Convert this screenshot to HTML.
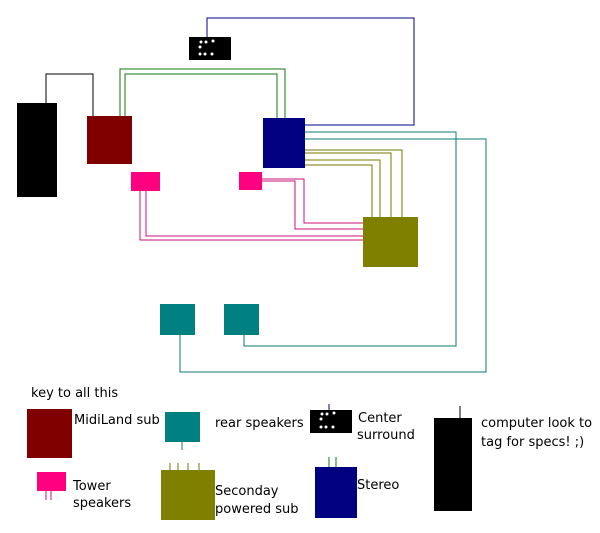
<!DOCTYPE html>
<html><head><style>body{margin:0;background:#fff}svg{display:block}text{font-family:"DejaVu Sans","Liberation Sans",sans-serif;font-size:13px;fill:#000}</style></head>
<body>
<svg width="600" height="533" viewBox="0 0 600 533" xmlns="http://www.w3.org/2000/svg">
<g fill="none" stroke-width="1.3" shape-rendering="crispEdges">
<polyline stroke="#000" points="46,103 46,74 93,74 93,116"/>
<polyline stroke="#00008b" points="207,37 207,18 414,18 414,125 305,125"/>
<polyline stroke="#117711" points="120,116 120,69 285,69 285,118"/>
<polyline stroke="#117711" points="125,116 125,74 277,74 277,118"/>
<polyline stroke="#cc1177" points="140,191 140,240 363,240"/>
<polyline stroke="#cc1177" points="146,191 146,236 363,236"/>
<polyline stroke="#cc1177" points="262,179 304,179 304,223 363,223"/>
<polyline stroke="#cc1177" points="262,181 295,181 295,229 363,229"/>
<polyline stroke="#777700" points="305,150 402,150 402,217"/>
<polyline stroke="#777700" points="305,153 391,153 391,217"/>
<polyline stroke="#777700" points="305,160 380,160 380,217"/>
<polyline stroke="#777700" points="305,165 372,165 372,217"/>
<polyline stroke="#117777" points="305,132 456,132 456,346 244,346 244,335"/>
<polyline stroke="#117777" points="305,139 486,139 486,372 180,372 180,335"/>
<line stroke="#117777" x1="182" y1="442" x2="182" y2="450"/>
<line stroke="#00008b" x1="329" y1="404" x2="329" y2="410"/>
<line stroke="#000" x1="460" y1="406" x2="460" y2="418"/>
<line stroke="#cc1177" x1="46" y1="491" x2="46" y2="500"/>
<line stroke="#cc1177" x1="51" y1="491" x2="51" y2="500"/>
<line stroke="#777700" x1="170" y1="463" x2="170" y2="470"/>
<line stroke="#777700" x1="178" y1="463" x2="178" y2="470"/>
<line stroke="#777700" x1="188" y1="463" x2="188" y2="470"/>
<line stroke="#777700" x1="199" y1="463" x2="199" y2="470"/>
<line stroke="#117711" x1="329" y1="457" x2="329" y2="467"/>
<line stroke="#117711" x1="336" y1="457" x2="336" y2="467"/>
</g>
<rect x="17" y="103" width="40" height="94" fill="#000"/>
<rect x="87" y="116" width="45" height="48" fill="#800000"/>
<rect x="189" y="37" width="42" height="23" fill="#000"/>
<g fill="#fff"><circle cx="201" cy="42" r="1.5"/><circle cx="206" cy="42" r="1.5"/><circle cx="213" cy="41" r="1.5"/><circle cx="200" cy="47" r="1.5"/><circle cx="200" cy="54" r="1.5"/><circle cx="205" cy="54" r="1.5"/><circle cx="212" cy="54" r="1.5"/></g>
<rect x="263" y="118" width="42" height="50" fill="#000080"/>
<rect x="131" y="172" width="29" height="19" fill="#ff0080"/>
<rect x="239" y="172" width="23" height="18" fill="#ff0080"/>
<rect x="363" y="217" width="55" height="50" fill="#808000"/>
<rect x="160" y="304" width="35" height="31" fill="#008080"/>
<rect x="224" y="304" width="35" height="31" fill="#008080"/>

<text x="31" y="397">key to all this</text>
<rect x="27" y="409" width="45" height="49" fill="#800000"/>
<text x="74" y="424">MidiLand sub</text>
<rect x="165" y="412" width="35" height="30" fill="#008080"/>
<text x="215" y="427">rear speakers</text>
<rect x="310" y="410" width="42" height="23" fill="#000"/>
<g fill="#fff"><circle cx="322" cy="414" r="1.5"/><circle cx="327" cy="414" r="1.5"/><circle cx="334" cy="413" r="1.5"/><circle cx="321" cy="419" r="1.5"/><circle cx="321" cy="427" r="1.5"/><circle cx="326" cy="427" r="1.5"/><circle cx="333" cy="427" r="1.5"/></g>
<text x="358" y="422">Center</text>
<text x="357" y="439">surround</text>
<rect x="434" y="418" width="38" height="93" fill="#000"/>
<text x="481" y="427">computer look to</text>
<text x="481" y="446">tag for specs! ;)</text>
<rect x="37" y="472" width="29" height="19" fill="#ff0080"/>
<text x="73" y="490">Tower</text>
<text x="73" y="507">speakers</text>
<rect x="161" y="470" width="54" height="50" fill="#808000"/>
<text x="215" y="495">Seconday</text>
<text x="215" y="513">powered sub</text>
<rect x="315" y="467" width="42" height="51" fill="#000080"/>
<text x="357" y="489">Stereo</text>
</svg>
</body></html>
